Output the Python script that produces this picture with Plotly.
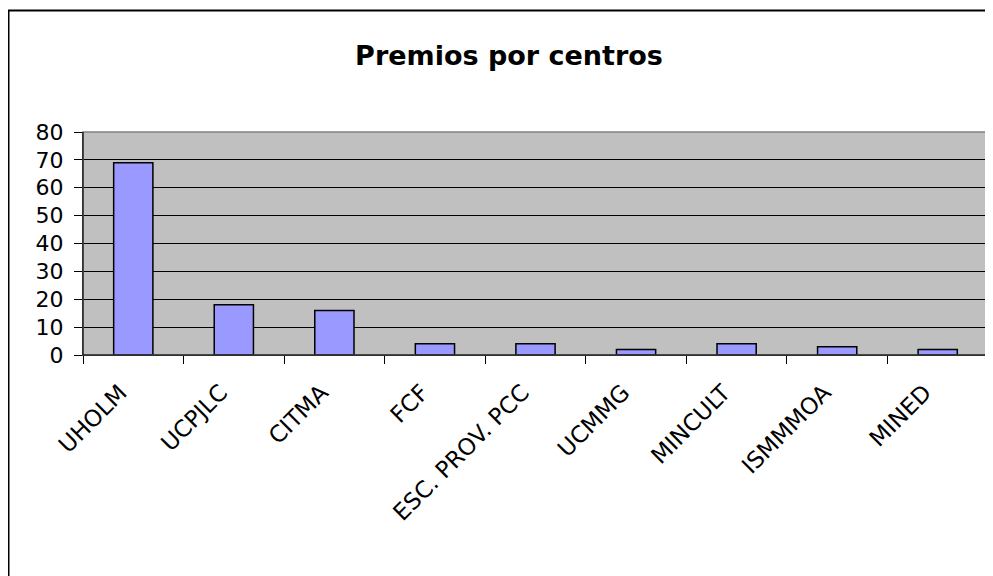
import plotly.graph_objects as go

categories = ["UHOLM", "UCPJLC", "CITMA", "FCF", "ESC. PROV. PCC", "UCMMG", "MINCULT", "ISMMMOA", "MINED"]
premios = [69, 18, 16, 4, 4, 2, 4, 3, 2]
y_ticks = [0, 10, 20, 30, 40, 50, 60, 70, 80]

# page body has an 8px margin; work in window pixels then offset
OFF = 8
W, H = 993 - OFF, 576 - OFF
L, R, T, B = 83 - OFF, 988 - OFF, 132 - OFF, 355 - OFF

fig = go.Figure()
fig.add_trace(go.Bar(
    x=categories, y=premios,
    marker=dict(color="#9999FF", line=dict(color="black", width=1.5)),
    width=0.39,
))

font = "DejaVu Sans, Arial, sans-serif"
fig.update_layout(
    width=W, height=H,
    margin=dict(l=L, r=W - R, t=T, b=H - B, pad=0),
    paper_bgcolor="white",
    plot_bgcolor="#C0C0C0",
    showlegend=False,
    font=dict(family=font, color="black", size=21),
    title=dict(text="<b>Premios por centros</b>", font=dict(family=font, size=27, color="black"),
               x=(509 - 83) / (988 - 83), xref="paper", xanchor="center",
               y=1 - (56 - OFF) / H, yref="container", yanchor="middle"),
    bargap=0.61,
)
fig.update_xaxes(
    type="category", tickangle=-45, tickson="boundaries",
    ticks="outside", ticklen=8, tickcolor="black", tickwidth=1,
    showline=True, linecolor="black", linewidth=1,
    showgrid=False, tickfont=dict(size=23, family=font),
    ticklabelstandoff=14, ticklabelshift=-13,
)
fig.update_yaxes(
    range=[0, 80], tickvals=y_ticks, ticktext=[str(v) for v in y_ticks],
    ticks="outside", ticklen=8, tickcolor="black", tickwidth=1,
    showline=True, linecolor="black", linewidth=1,
    showgrid=True, gridcolor="black", gridwidth=1,
    zeroline=False, tickfont=dict(size=22, family=font),
    ticklabelstandoff=6,
)
# plot area border (gray)
fig.add_shape(type="rect", xref="paper", yref="paper", x0=0, x1=1, y0=0, y1=1,
              line=dict(color="#808080", width=1.5), layer="above")
fig.add_shape(type="line", xref="paper", yref="paper", x0=0, x1=0, y0=0, y1=1,
              line=dict(color="black", width=1), layer="above")
fig.add_shape(type="line", xref="paper", yref="paper", x0=0, x1=1, y0=0, y1=0,
              line=dict(color="black", width=1), layer="above")
# chart outer border
px = lambda x: (x - OFF - L) / (R - L)
py = lambda y: (B - (y - OFF)) / (B - T)
fig.add_shape(type="rect", xref="paper", yref="paper",
              x0=px(8.5), x1=px(1000), y0=py(590), y1=py(10.5),
              line=dict(color="black", width=2), layer="above")

fig.write_html("out.html")
